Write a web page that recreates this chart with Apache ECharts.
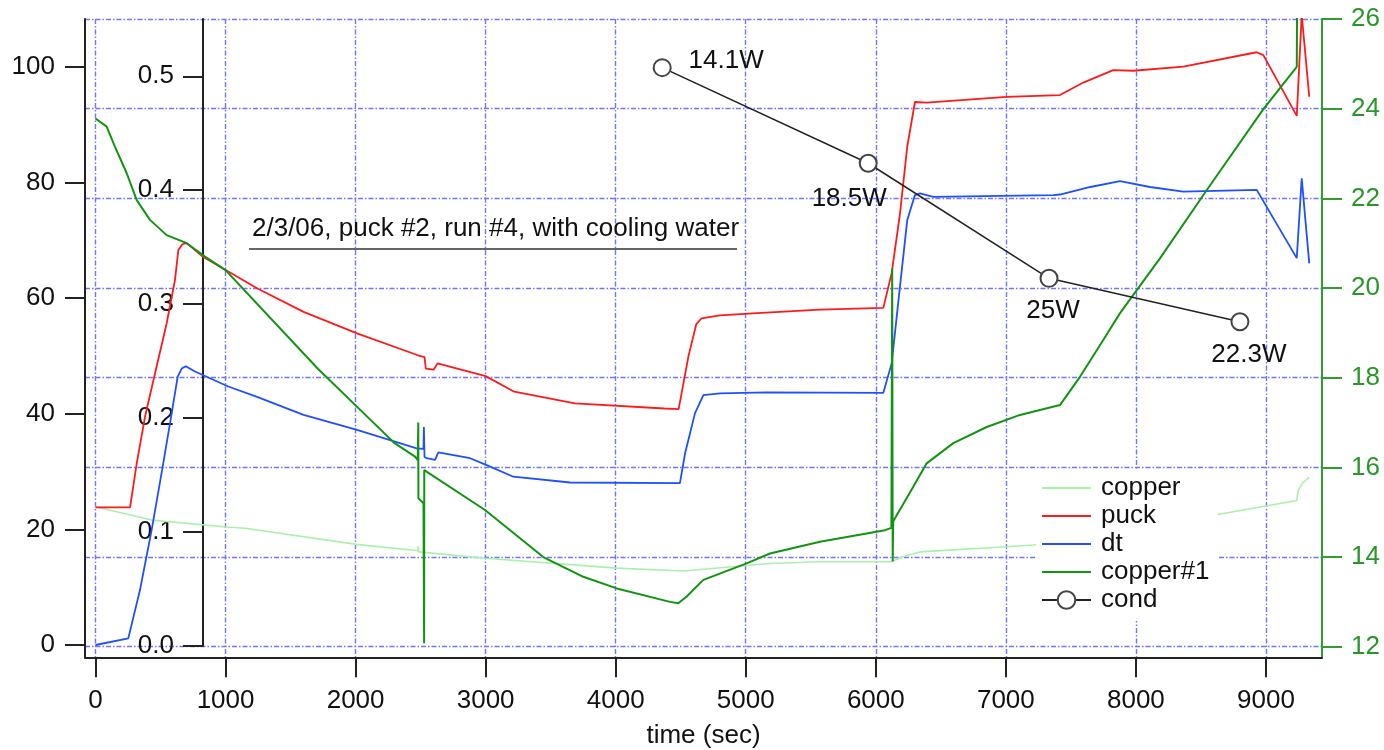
<!DOCTYPE html>
<html lang="en">
<head>
<meta charset="UTF-8">
<title>puck #2 run #4</title>
<script src="https://cdn.jsdelivr.net/npm/echarts@6.0.0/dist/echarts.min.js"></script>
</head>
<body style="margin:0;background:#fff;">
<div id="main" style="width:1384px;height:750px;"></div>
<script type="text/javascript">
// values (time in sec)
const xTicks = [0, 1000, 2000, 3000, 4000, 5000, 6000, 7000, 8000, 9000];
const leftTicks = [0, 20, 40, 60, 80, 100];
const innerTicks = [0, 0.1, 0.2, 0.3, 0.4, 0.5];
const rightTicks = [12, 14, 16, 18, 20, 22, 24, 26];

const copperT = [0, 432, 1006, 1150, 2008, 2480, 2482, 2484, 2995, 4008, 4520, 5186, 5571, 6122, 6200, 6340, 7006, 7211, 7700, 8100, 8565, 9237, 9240, 9250, 9280, 9333];
const copperV = [23.9, 21.6, 20.4, 20.2, 17.4, 16.3, 17.1, 16.1, 15.0, 13.3, 12.8, 14.1, 14.4, 14.4, 15.2, 16.1, 17.0, 17.3, 18.5, 20.0, 22.3, 25.0, 25.6, 26.8, 28.0, 29.0];

const puckT = [0, 266, 317, 381, 458, 547, 611, 637, 668, 701, 765, 829, 1021, 1242, 1600, 2011, 2479, 2530, 2540, 2600, 2630, 3000, 3220, 3687, 4374, 4484, 4560, 4620, 4660, 4800, 5087, 5571, 6058, 6122, 6186, 6242, 6301, 6391, 7006, 7416, 7600, 7826, 7980, 8365, 8929, 8980, 9237, 9275, 9333];
const puckV = [23.8, 23.8, 31.4, 39.5, 47.0, 55.6, 63.1, 68.3, 69.3, 69.5, 68.3, 67.1, 64.6, 61.7, 57.6, 53.9, 50.1, 49.8, 47.8, 47.6, 48.7, 46.5, 43.8, 41.8, 40.9, 40.8, 50.0, 55.5, 56.5, 57.0, 57.4, 58.0, 58.3, 64.3, 74.6, 86.2, 93.9, 93.8, 94.8, 95.1, 97.3, 99.4, 99.3, 100.0, 102.5, 102.0, 91.5, 109.0, 94.8];

const dtT = [0, 252, 342, 432, 521, 586, 632, 663, 694, 765, 1021, 1242, 1600, 2011, 2470, 2522, 2525, 2530, 2547, 2611, 2636, 2880, 3008, 3213, 3649, 4494, 4533, 4610, 4674, 4802, 5161, 6058, 6122, 6186, 6242, 6301, 6340, 6442, 7365, 7416, 7650, 7878, 8108, 8365, 8929, 9237, 9275, 9333];
const dtV = [0, 1.15, 9.5, 19.9, 31.4, 40.1, 46.4, 47.8, 48.2, 47.3, 44.7, 42.9, 39.8, 37.2, 34.0, 33.9, 37.7, 32.5, 32.3, 32.0, 33.3, 32.3, 31.1, 29.1, 28.1, 28.0, 33.1, 40.1, 43.2, 43.5, 43.7, 43.6, 48.7, 62.0, 73.5, 77.8, 78.1, 77.5, 77.8, 77.9, 79.2, 80.2, 79.2, 78.4, 78.7, 66.9, 80.7, 66.0];

const copper1T = [0, 86, 150, 240, 317, 419, 547, 701, 842, 1000, 1710, 2111, 2300, 2457, 2478, 2482, 2483, 2522, 2525, 2527, 2528, 2995, 3443, 3751, 4008, 4418, 4481, 4546, 4674, 5007, 5186, 5571, 6071, 6120, 6126, 6130, 6134, 6288, 6391, 6596, 6853, 7109, 7416, 7570, 7749, 7878, 8185, 8544, 8980, 9237, 9240];
const copper1V = [23.78, 23.6, 23.15, 22.56, 21.96, 21.52, 21.18, 21.0, 20.7, 20.4, 18.2, 17.07, 16.54, 16.24, 16.16, 17.0, 15.31, 15.2, 15.2, 12.08, 15.94, 15.05, 14.0, 13.56, 13.3, 13.0, 12.97, 13.12, 13.49, 13.86, 14.08, 14.34, 14.6, 14.65, 20.44, 13.9, 14.8, 15.57, 16.09, 16.54, 16.9, 17.17, 17.39, 18.02, 18.84, 19.44, 20.66, 22.18, 23.99, 24.93, 26.5];

const condT = [4358, 5942, 7332, 8800];
const condV = [0.5076, 0.4237, 0.3227, 0.2846];
const condLabels = ['14.1W', '18.5W', '25W', '22.3W'];
const condLabelOffsets = [[64, -7], [-19, 36], [4, 33], [9, 33]];

const zip = (t, v) => t.map((x, i) => [x, v[i]]);

const font = "'Liberation Sans', Arial, sans-serif";
const gridLine = { show: true, lineStyle: { color: '#7373ff', width: 1.4, type: [5, 2, 1.5, 2] } };
const blackLine = { show: true, onZero: false, lineStyle: { color: '#222', width: 2 } };
const tick = { show: true, inside: false, length: 20, lineStyle: { color: '#222', width: 2 } };
const labelBase = { fontSize: 26, fontFamily: font, color: '#111' };
const noSymbol = { opacity: 0 };

let myChart = echarts.init(document.getElementById('main'));

let options = {
  animation: false,
  backgroundColor: '#fff',
  grid: [
    { left: 85, right: 62, top: 19, bottom: 92.7, containLabel: false, outerBoundsMode: 'none' },
    { left: 203, right: 62, top: 19, bottom: 104, containLabel: false, outerBoundsMode: 'none' }
  ],
  xAxis: [
    {
      type: 'value', gridIndex: 0, min: -80.7, max: 9431,
      name: 'time (sec)', nameLocation: 'middle', nameGap: 66,
      nameTextStyle: { fontSize: 26, fontFamily: font, color: '#111' },
      axisLine: blackLine,
      axisTick: Object.assign({}, tick, { customValues: xTicks }),
      axisLabel: Object.assign({}, labelBase, { margin: 31, customValues: xTicks, formatter: v => String(v) }),
      splitLine: gridLine
    },
    { type: 'value', gridIndex: 1, min: 827.4, max: 9431, show: false }
  ],
  yAxis: [
    {
      type: 'value', gridIndex: 0, position: 'left', min: -2.127, max: 108.25,
      axisLine: blackLine,
      axisTick: Object.assign({}, tick, { customValues: leftTicks }),
      axisLabel: Object.assign({}, labelBase, { margin: 30, customValues: leftTicks, formatter: v => String(v) }),
      splitLine: { show: false }
    },
    {
      type: 'value', gridIndex: 0, position: 'right', min: 11.764, max: 26,
      axisLine: { show: true, onZero: false, lineStyle: { color: '#2e9e2e', width: 2 } },
      axisTick: { show: true, length: 20, customValues: rightTicks, lineStyle: { color: '#2e9e2e', width: 2 } },
      axisLabel: Object.assign({}, labelBase, { color: '#2a962a', margin: 29, customValues: rightTicks, formatter: v => String(v) }),
      splitLine: gridLine
    },
    {
      type: 'value', gridIndex: 1, position: 'left', min: 0, max: 0.5503,
      axisLine: blackLine,
      axisTick: Object.assign({}, tick, { customValues: innerTicks }),
      axisLabel: Object.assign({}, labelBase, { margin: 29, customValues: innerTicks, formatter: v => v.toFixed(1) }),
      splitLine: { show: false }
    }
  ],
  legend: {
    orient: 'vertical', left: 1036, top: 470,
    data: [
      { name: 'copper', itemStyle: noSymbol },
      { name: 'puck', itemStyle: noSymbol },
      { name: 'dt', itemStyle: noSymbol },
      { name: 'copper#1', itemStyle: noSymbol },
      { name: 'cond' }
    ],
    itemWidth: 49, itemHeight: 22, itemGap: 2,
    padding: [5, 8, 8, 5],
    backgroundColor: '#fff',
    selectedMode: false,
    textStyle: { fontSize: 26, fontFamily: font, color: '#111', lineHeight: 26, padding: [0, 0, 0, 5] }
  },
  graphic: [
    {
      type: 'text', left: 252, top: 216, z: 10,
      style: { text: '2/3/06, puck #2, run #4, with cooling water', fontSize: 26, fontFamily: font, fill: '#111' }
    },
    {
      type: 'line', z: 10,
      shape: { x1: 249, y1: 249, x2: 737, y2: 249 },
      style: { stroke: '#333', lineWidth: 1.5 }
    }
  ],
  series: [
    {
      name: 'copper', type: 'line', xAxisIndex: 0, yAxisIndex: 0,
      data: zip(copperT, copperV), symbol: 'none', showSymbol: false,
      lineStyle: { color: '#aaf0aa', width: 1.6 }, itemStyle: { color: '#aaf0aa' }, z: 2
    },
    {
      name: 'puck', type: 'line', xAxisIndex: 0, yAxisIndex: 0,
      data: zip(puckT, puckV), symbol: 'none', showSymbol: false,
      lineStyle: { color: '#ff1a1a', width: 1.8 }, itemStyle: { color: '#ff1a1a' }, z: 3
    },
    {
      name: 'dt', type: 'line', xAxisIndex: 0, yAxisIndex: 0,
      data: zip(dtT, dtV), symbol: 'none', showSymbol: false,
      lineStyle: { color: '#1f4fff', width: 1.8 }, itemStyle: { color: '#1f4fff' }, z: 3
    },
    {
      name: 'copper#1', type: 'line', xAxisIndex: 0, yAxisIndex: 1,
      data: zip(copper1T, copper1V), symbol: 'none', showSymbol: false,
      lineStyle: { color: '#129412', width: 2 }, itemStyle: { color: '#129412' }, z: 4
    },
    {
      name: 'cond', type: 'line', xAxisIndex: 1, yAxisIndex: 2,
      data: condT.map((t, i) => ({
        value: [t, condV[i]], name: condLabels[i],
        label: { offset: condLabelOffsets[i] }
      })),
      symbol: 'emptyCircle', symbolSize: 17, showSymbol: true,
      lineStyle: { color: '#222', width: 1.5 },
      itemStyle: { color: '#444', borderColor: '#444', borderWidth: 1.3 },
      label: { show: true, position: 'inside', formatter: p => p.name, fontSize: 26, fontFamily: font, color: '#111' },
      emphasis: { disabled: true },
      z: 6
    }
  ]
};

myChart.setOption(options);
</script>
</body>
</html>
